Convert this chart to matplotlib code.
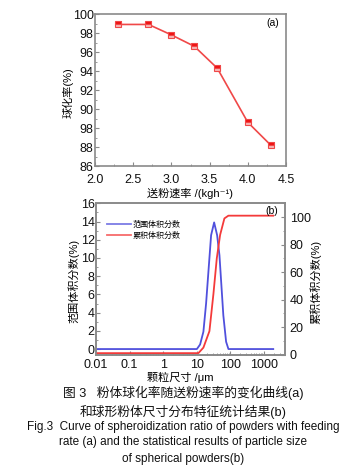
import matplotlib
matplotlib.use("Agg")
import matplotlib.pyplot as plt
from matplotlib.ticker import MultipleLocator, FixedLocator, LogLocator, NullFormatter

plt.rcParams['font.family'] = ['Liberation Sans', 'Noto Sans CJK SC', 'DejaVu Sans']
plt.rcParams['font.size'] = 8

# (a) spheroidization ratio vs feeding rate
feed_rate = [2.3, 2.7, 3.0, 3.3, 3.6, 4.0, 4.3]
sphero_ratio = [98.9, 98.9, 97.8, 96.6, 94.3, 88.6, 86.2]
ratio_ticks = [84, 86, 88, 90, 92, 94, 96, 98, 100]
ratio_labels = ["86", "88", "98", "90", "92", "94", "96", "98", "100"]

# (b) particle size distribution
band_size = [0.01, 10.1, 12.6, 15.8, 19, 22.3, 26.8, 33, 40.5, 47.5, 62, 75, 88, 1900]
band_frac = [0, 0, 0.5, 1.9, 5, 8.5, 12.5, 13.9, 12.5, 10.3, 3.7, 0.8, 0, 0]
cum_size = [0.01, 11.2, 15.8, 23.9, 31.4, 39.6, 49.7, 66.7, 87.8, 1900]
cum_frac = [1, 1, 5, 17, 44, 70, 87, 99, 101, 101]
size_ticks = [0.01, 0.1, 1, 10, 100, 1000]
size_labels = ["0.01", "0.1", "1", "10", "100", "1000"]

spine_c = '#8a8a8a'

fig = plt.figure(figsize=(3.47, 4.73), dpi=100)


def style(ax):
    for s in ax.spines.values():
        s.set_color(spine_c)
        s.set_linewidth(1.2)
    ax.tick_params(which='both', direction='in', colors=spine_c, labelcolor='#111111')
    ax.tick_params(which='major', length=3)
    ax.tick_params(which='minor', length=1.5)


# --- top panel ---
ax1 = fig.add_axes([0.2738, 0.649, 0.5504, 0.3214])
style(ax1)
ax1.plot(feed_rate, sphero_ratio, color='#f04848', lw=1.2, marker='s', ms=5,
         fillstyle='top', markerfacecolor='#ee1111', markerfacecoloralt='#f7b8b8',
         markeredgecolor='#f04848', markeredgewidth=0.8)
ax1.set_xlim(2.0, 4.5)
ax1.set_ylim(84, 100)
ax1.xaxis.set_major_locator(MultipleLocator(0.5))
ax1.xaxis.set_minor_locator(MultipleLocator(0.25))
ax1.set_yticks(ratio_ticks)
ax1.set_yticklabels(ratio_labels)
ax1.yaxis.set_minor_locator(MultipleLocator(1))
ax1.tick_params(axis='x', which='both', pad=6, labelsize=9)
ax1.tick_params(axis='y', which='both', pad=1, labelsize=9)
ax1.text(0.93, 0.94, "(a)", transform=ax1.transAxes, ha='center', va='center', fontsize=7.5)

# --- bottom panel ---
ax2 = fig.add_axes([0.2767, 0.2505, 0.546, 0.3197])
style(ax2)
ax3 = ax2.twinx()
style(ax3)
l1, = ax2.plot(band_size, band_frac, color='#5050dd', lw=1.3)
l2, = ax3.plot(cum_size, cum_frac, color='#f43a3a', lw=1.3)
ax2.set_xscale('log')
ax2.set_xlim(0.01, 4400)
ax2.set_xticks(size_ticks)
ax2.set_xticklabels(size_labels)
ax2.xaxis.set_minor_locator(LogLocator(base=10, subs=range(2, 10)))
ax2.xaxis.set_minor_formatter(NullFormatter())
ax2.set_ylim(-0.6, 16)
ax2.yaxis.set_major_locator(MultipleLocator(2))
ax2.yaxis.set_minor_locator(MultipleLocator(1))
ax3.set_ylim(0, 110)
ax3.yaxis.set_major_locator(FixedLocator([0, 20, 40, 60, 80, 100]))
ax3.yaxis.set_minor_locator(MultipleLocator(10))
ax2.tick_params(axis='x', which='both', pad=3, labelsize=9)
ax2.tick_params(axis='y', which='both', pad=1, labelsize=9)
ax3.tick_params(axis='y', which='both', pad=3, labelsize=9)
ax3.text(0.93, 0.95, "(b)", transform=ax3.transAxes, ha='center', va='center', fontsize=7.5)
leg = ax3.legend([l1, l2], ["范围体积分数", "累积体积分数"], loc='upper left',
                 bbox_to_anchor=(0.02, 0.93), frameon=False, fontsize=5.8,
                 handlelength=3.0, handletextpad=0.2, labelspacing=0.3)
for h in leg.get_lines():
    h.set_alpha(0.75)

# axis titles and caption
fig.text(190 / 347, 1 - 193 / 473, "送粉速率 /(kgh⁻¹)", ha='center', va='center', fontsize=8)
fig.text(68 / 347, 1 - 93 / 473, "球化率(%)", ha='center', va='center', rotation=90, fontsize=8)
fig.text(74 / 347, 1 - 281 / 473, "范围体积分数(%)", ha='center', va='center', rotation=90, fontsize=8)
fig.text(316 / 347, 1 - 282 / 473, "累积体积分数(%)", ha='center', va='center', rotation=90, fontsize=8)
fig.text(180 / 347, 1 - 377 / 473, "颗粒尺寸 /μm", ha='center', va='center', fontsize=8)

caption = [
    ("图 3   粉体球化率随送粉速率的变化曲线(a)", 393, 9.2),
    ("和球形粉体尺寸分布特征统计结果(b)", 412, 9.2),
    ("Fig.3  Curve of spheroidization ratio of powders with feeding", 427, 8.5),
    ("rate (a) and the statistical results of particle size", 442, 8.5),
    ("of spherical powders(b)", 459, 8.5),
]
for txt, y, fs in caption:
    fig.text(183 / 347, 1 - y / 473, txt, ha='center', va='center', fontsize=fs, color='#111111')

fig.savefig("out.png", dpi=100)
